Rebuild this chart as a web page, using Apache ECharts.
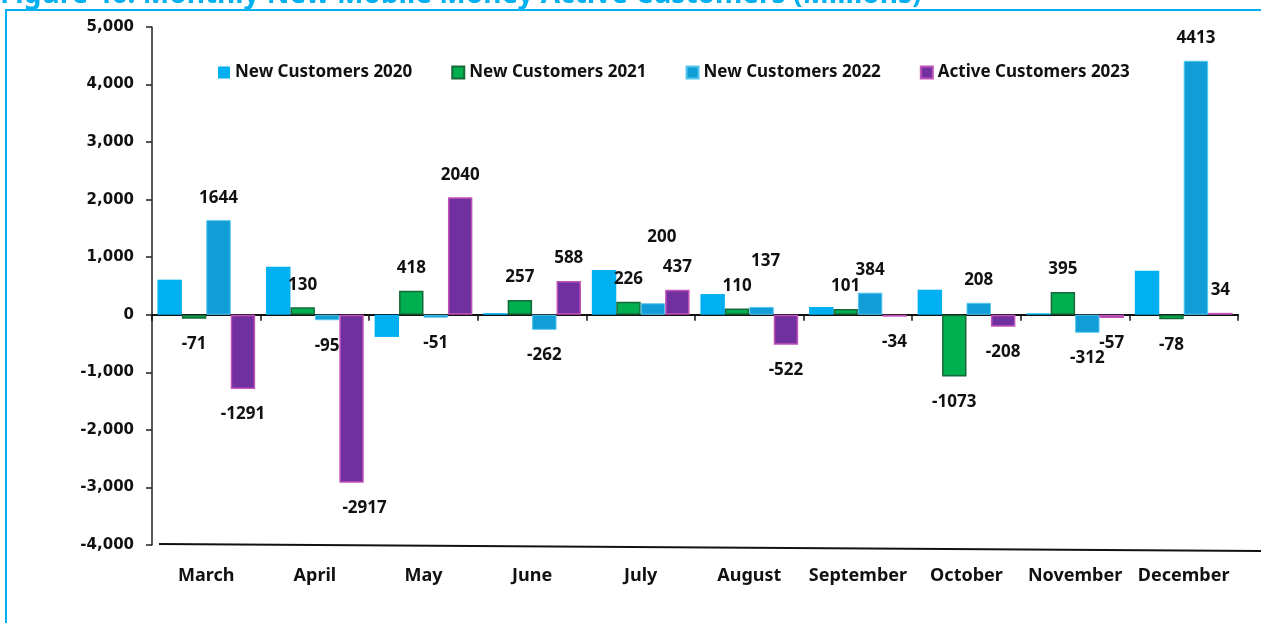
<!DOCTYPE html>
<html>
<head>
<meta charset="utf-8">
<title>Monthly New Mobile Money Active Customers</title>
<script src="https://cdn.jsdelivr.net/npm/echarts@6/dist/echarts.min.js"></script>
<style>
  html, body { margin: 0; padding: 0; background: #ffffff; }
  #chart { width: 1261px; height: 623px; }
</style>
</head>
<body>
<div id="chart"></div>
<script>
// Month-on-month change in mobile money customers (millions)
const months = ['March', 'April', 'May', 'June', 'July', 'August', 'September', 'October', 'November', 'December'];
const newCustomers2020 = [610, 835, -385, 28, 780, 360, 135, 435, 25, 765];
const newCustomers2021 = [-71, 130, 418, 257, 226, 110, 101, -1073, 395, -78];
const newCustomers2022 = [1644, -95, -51, -262, 200, 137, 384, 208, -312, 4413];
const activeCustomers2023 = [-1291, -2917, 2040, 588, 437, -522, -34, -208, -57, 34];
const yMin = -4000;
const yMax = 5000;
const yStep = 1000;

const LABEL_FONT = '"Noto Sans", "Open Sans", sans-serif';
const AXIS_FONT = '"DejaVu Sans", Verdana, sans-serif';

// hand-placed data labels that sit away from their bar
const labelNudge = {
  'New Customers 2022': { 4: [9, -44], 5: [4, -23] },
  'Active Customers 2023': { 1: [13, 0] }
};

function barSeries(name, values, style, showLabels) {
  const nudges = labelNudge[name] || {};
  return {
    name: name,
    type: 'bar',
    xAxisIndex: 0,
    barGap: '0%',
    barCategoryGap: '10%',
    itemStyle: style,
    data: values.map(function (v, i) {
      return {
        value: v,
        label: {
          show: showLabels,
          position: v >= 0 ? 'top' : 'bottom',
          distance: v >= 0 ? 14 : 17,
          offset: nudges[i] || [0, 0]
        }
      };
    }),
    label: {
      show: showLabels,
      color: '#111111',
      fontFamily: LABEL_FONT,
      fontWeight: 'bold',
      fontSize: 17
    },
    emphasis: { disabled: true }
  };
}

const chart = echarts.init(document.getElementById('chart'), null, { renderer: 'canvas' });

chart.setOption({
  animation: false,
  backgroundColor: '#ffffff',
  title: {
    text: 'Figure 46: Monthly New Mobile Money Active Customers (Millions)',
    left: 0,
    top: -19,
    padding: 0,
    textStyle: {
      color: '#00b0f0',
      fontFamily: LABEL_FONT,
      fontWeight: 'bold',
      fontSize: 28
    }
  },
  graphic: [
    {
      type: 'rect',
      z: -1,
      shape: { x: 6, y: 10, width: 1300, height: 700 },
      style: { fill: 'none', stroke: '#00b0f0', lineWidth: 2 }
    },
    {
      type: 'line',
      shape: { x1: 159, y1: 544, x2: 1261, y2: 551 },
      style: { stroke: '#111111', lineWidth: 2 }
    }
  ],
  legend: {
    left: 218,
    top: 64,
    padding: 0,
    icon: 'rect',
    itemWidth: 12,
    itemHeight: 12,
    itemGap: 39,
    textStyle: {
      color: '#111111',
      fontFamily: LABEL_FONT,
      fontWeight: 'bold',
      fontSize: 17
    },
    data: ['New Customers 2020', 'New Customers 2021', 'New Customers 2022', 'Active Customers 2023']
  },
  grid: {
    left: 152,
    right: 23,
    top: 27,
    bottom: 78,
    containLabel: false
  },
  xAxis: [
    {
      type: 'category',
      data: months,
      position: 'bottom',
      axisLine: { show: false, onZero: false },
      axisTick: { show: false },
      axisLabel: {
        interval: 0,
        margin: 22,
        color: '#111111',
        fontFamily: LABEL_FONT,
        fontWeight: 'bold',
        fontSize: 18
      },
      splitLine: { show: false }
    },
    {
      type: 'category',
      data: months,
      position: 'bottom',
      axisLine: { show: true, onZero: true, lineStyle: { color: '#111111', width: 2 } },
      axisTick: { show: true, interval: 0, length: 6, lineStyle: { color: '#111111', width: 1.5 } },
      axisLabel: { show: false },
      splitLine: { show: false }
    }
  ],
  yAxis: {
    type: 'value',
    min: yMin,
    max: yMax,
    interval: yStep,
    axisLine: { show: true, lineStyle: { color: '#222222', width: 1.5 } },
    axisTick: { show: true, length: 6, lineStyle: { color: '#222222', width: 1.5 } },
    splitLine: { show: false },
    axisLabel: {
      margin: 18,
      color: '#111111',
      fontFamily: AXIS_FONT,
      fontWeight: 'bold',
      fontSize: 15,
      formatter: function (v) { return v.toLocaleString('en-US'); }
    }
  },
  series: [
    barSeries('New Customers 2020', newCustomers2020, { color: '#00b0f0' }, false),
    barSeries('New Customers 2021', newCustomers2021, { color: '#00b050', borderColor: '#17693a', borderWidth: 1.5 }, true),
    barSeries('New Customers 2022', newCustomers2022, { color: '#119dd6', borderColor: '#55c6ef', borderWidth: 1 }, true),
    barSeries('Active Customers 2023', activeCustomers2023, { color: '#7030a0', borderColor: '#c253b8', borderWidth: 1.5 }, true)
  ]
});
</script>
</body>
</html>
